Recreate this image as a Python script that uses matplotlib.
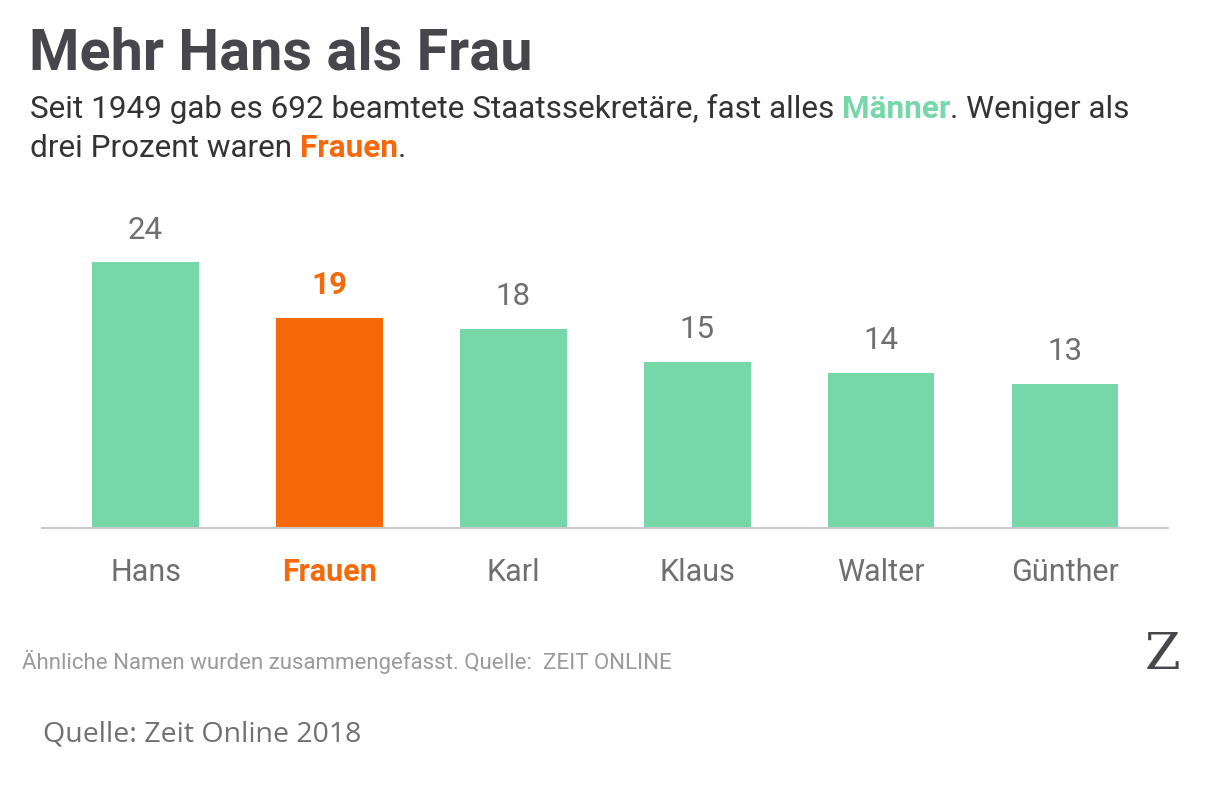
import matplotlib
matplotlib.use("Agg")
import matplotlib.pyplot as plt

names = ["Hans", "Frauen", "Karl", "Klaus", "Walter", "Günther"]
counts = [24, 19, 18, 15, 14, 13]
highlight = "Frauen"

GREEN = "#76d7a9"
ORANGE = "#f5690a"
DARK = "#46464c"
GREY = "#6f6f73"

plt.rcParams["font.family"] = ["Roboto", "DejaVu Sans"]

W, H = 1210, 799
fig = plt.figure(figsize=(W / 100, H / 100), dpi=100)
fig.patch.set_facecolor("white")


def fy(py):
    return 1 - py / H


def fx(px):
    return px / W


# bars
ax = fig.add_axes([fx(42), fy(528), fx(1168) - fx(42), fy(240) - fy(528)])
colors = [ORANGE if n == highlight else GREEN for n in names]
x = list(range(len(names)))
ax.bar(x, counts, width=0.58, color=colors, zorder=2)
ax.set_xlim(-0.563, 5.56)
ax.set_ylim(0, 26)
for s in ["top", "right", "left"]:
    ax.spines[s].set_visible(False)
ax.spines["bottom"].set_color("#c8c8c8")
ax.spines["bottom"].set_linewidth(1.5)
ax.set_yticks([])
ax.set_xticks([])

for i, (n, v) in enumerate(zip(names, counts)):
    hl = n == highlight
    ax.annotate(str(v), (i, v), xytext=(0, 17), textcoords="offset points",
                ha="center", va="baseline", fontsize=22.5,
                color=ORANGE if hl else GREY,
                fontweight="bold" if hl else "normal")
    ax.annotate(n, (i, 0), xytext=(0, -38), textcoords="offset points",
                ha="center", va="baseline", fontsize=22,
                color=ORANGE if hl else GREY,
                fontweight="bold" if hl else "normal")

# title
fig.text(fx(29), fy(70), "Mehr Hans als Frau", fontsize=41.5, fontweight="bold",
         color=DARK, va="baseline", ha="left")

# subtitle with coloured words
renderer = fig.canvas.get_renderer()


def rich_line(parts, px, py, size=22.7):
    cur = fx(px)
    for txt, col, wt in parts:
        t = fig.text(cur, fy(py), txt, fontsize=size, color=col, fontweight=wt,
                     va="baseline", ha="left")
        bb = t.get_window_extent(renderer=renderer)
        cur += bb.width / W


rich_line([("Seit 1949 gab es 692 beamtete Staatssekretäre, fast alles ", "#333333", "normal"),
           ("Männer", GREEN, "bold"),
           (". Weniger als", "#333333", "normal")], 30, 118)
rich_line([("drei Prozent waren ", "#333333", "normal"),
           ("Frauen", ORANGE, "bold"),
           (".", "#333333", "normal")], 30, 157)

# footers
fig.text(fx(22), fy(669), "Ähnliche Namen wurden zusammengefasst. Quelle:  ZEIT ONLINE",
         fontsize=16, color="#9a9a9a", va="baseline", ha="left")
fig.text(fx(1163), fy(669), "Z", fontsize=37, color=DARK, family="DejaVu Serif",
         va="baseline", ha="center")
fig.text(fx(43), fy(742), "Quelle: Zeit Online 2018", fontsize=20.5, color="#707070",
         family="Open Sans", va="baseline", ha="left")

fig.savefig("out.png", dpi=100, facecolor="white")
